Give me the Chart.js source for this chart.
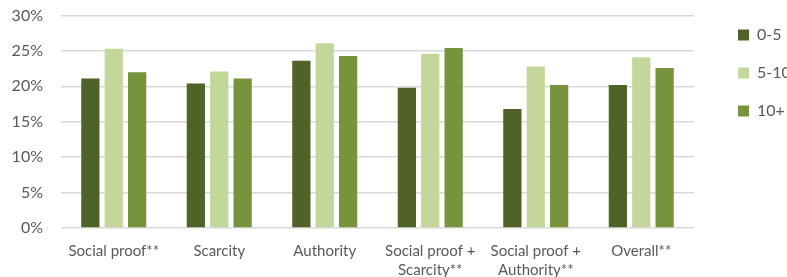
<!DOCTYPE html>
<html>
<head>
<meta charset="utf-8">
<script src="https://cdn.jsdelivr.net/npm/chart.js@4/dist/chart.umd.min.js"></script>
<style>
html,body{margin:0;padding:0;background:#fff;}
#wrap{width:787px;height:277px;}
</style>
</head>
<body>
<div id="wrap"><canvas id="c" width="787" height="277"></canvas></div>
<script>
const categories = [["Social proof**"], ["Scarcity"], ["Authority"], ["Social proof +", "Scarcity**"], ["Social proof +", "Authority**"], ["Overall**"]];
const seriesNames = ["0-5", "5-10", "10+"];
const values0to5 = [21.1, 20.4, 23.6, 19.8, 16.8, 20.2];
const values5to10 = [25.3, 22.1, 26.1, 24.6, 22.8, 24.1];
const values10plus = [22.0, 21.1, 24.3, 25.4, 20.2, 22.6];
const yTicks = [0, 5, 10, 15, 20, 25, 30];

const colors = ["#4f6228", "#c4d79b", "#77933c"];
const textColor = "#595959";
const fontFamily = "Lato, 'Open Sans', sans-serif";

const legendShift = 22;
const legendDown = 5;
const legendWidth = 93;
const fixPlugin = {
  id: 'fixLegend',
  beforeLayout(chart) {
    const lg = chart.legend;
    if (lg && !lg._patched) {
      const orig = lg.fit;
      lg.fit = function() { orig.call(this); this.width = legendWidth; };
      lg._patched = true;
    }
  },
  afterLayout(chart) {
    const lg = chart.legend;
    if (lg) {
      lg.left += legendShift; lg.right += legendShift;
      lg.top += legendDown; lg.bottom += legendDown;
    }
  }
};

new Chart(document.getElementById('c'), {
  type: 'bar',
  data: {
    labels: categories,
    datasets: [
      { label: seriesNames[0], data: values0to5, backgroundColor: colors[0] },
      { label: seriesNames[1], data: values5to10, backgroundColor: colors[1] },
      { label: seriesNames[2], data: values10plus, backgroundColor: colors[2] }
    ]
  },
  options: {
    responsive: false,
    animation: false,
    devicePixelRatio: 1,
    layout: { padding: { left: 8, right: 0, top: 0, bottom: 0 } },
    datasets: { bar: { categoryPercentage: 0.665, barPercentage: 0.78 } },
    plugins: {
      legend: {
        position: 'right',
        align: 'start',
        labels: {
          boxWidth: 11, boxHeight: 11, padding: 22,
          color: textColor,
          font: { family: fontFamily, size: 16 }
        }
      },
      tooltip: { enabled: false }
    },
    scales: {
      x: {
        grid: { display: false, drawTicks: false },
        border: { display: false },
        ticks: { color: textColor, font: { family: fontFamily, size: 15, lineHeight: 1.3 }, padding: 13, maxRotation: 0, autoSkip: false },
        afterFit(s) { s.height = 49; }
      },
      y: {
        min: 0, max: 30,
        afterBuildTicks(s) { s.ticks = yTicks.map(v => ({ value: v })); },
        grid: { color: "#d9d9d9", lineWidth: 1.5, drawTicks: false },
        border: { display: false },
        ticks: { color: textColor, font: { family: fontFamily, size: 16 }, padding: 18, callback: v => v + "%" },
        afterFit(s) { s.width = 53; s.paddingTop = 15.5; }
      }
    }
  },
  plugins: [fixPlugin]
});
</script>
</body>
</html>
